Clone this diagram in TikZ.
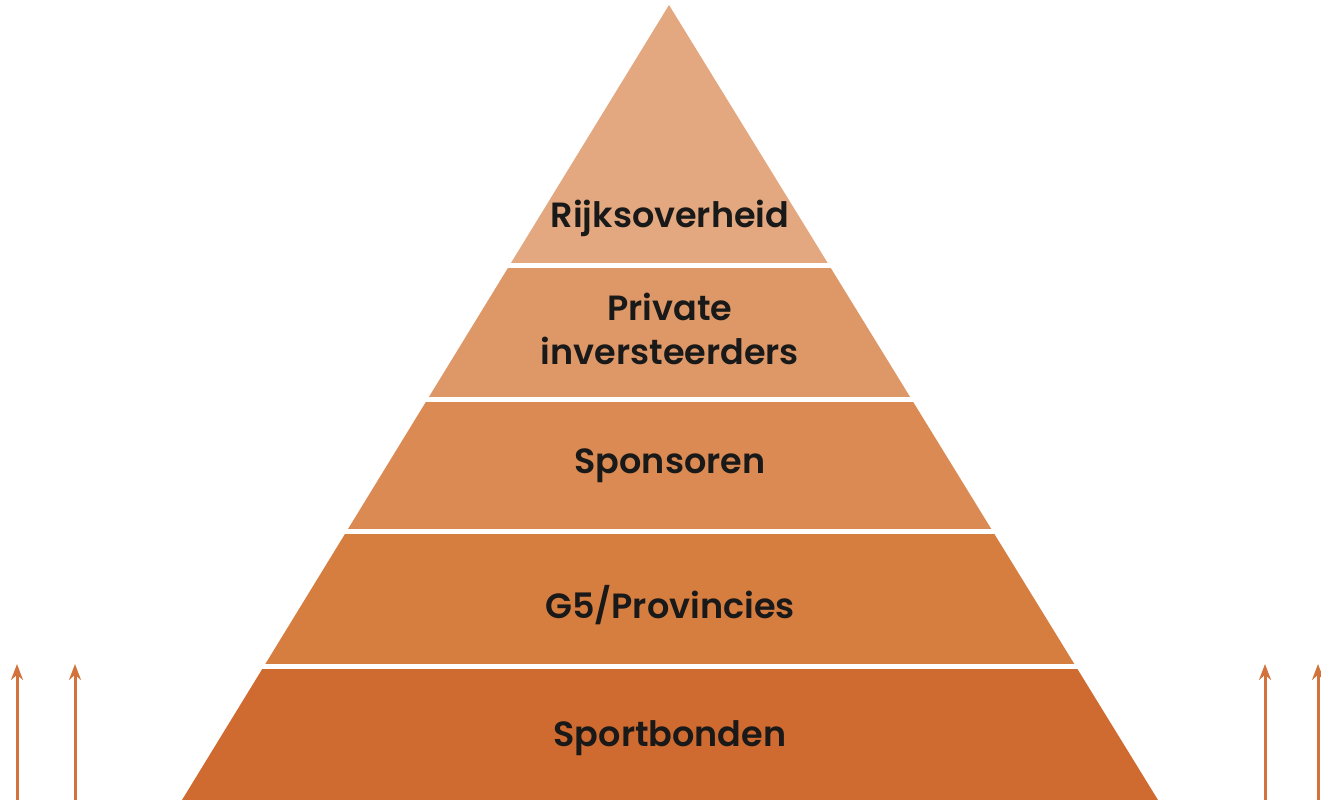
\documentclass[tikz,border=0pt]{standalone}
\usepackage{fontspec}
\setmainfont{Poppins}[UprightFont={* SemiBold}]
\usetikzlibrary{arrows.meta}
\definecolor{c1}{RGB}{227,168,128}
\definecolor{c2}{RGB}{222,152,104}
\definecolor{c3}{RGB}{218,138,82}
\definecolor{c4}{RGB}{214,125,64}
\definecolor{c5}{RGB}{207,106,48}
\definecolor{arr}{RGB}{210,115,60}
\tikzset{
  lbl/.style={font=\fontsize{35}{44}\selectfont, text=black!90, align=center, inner sep=0pt, anchor=base},
  uparrow/.style={draw=arr, line width=3pt, -{Stealth[length=16pt,width=12pt]}},
}
\begin{document}
\begin{tikzpicture}[x=1pt,y=-1pt]
\useasboundingbox (0,0) rectangle (1321,800);
\begin{scope}
\clip (669,5) -- (1158,800) -- (182,800) -- cycle;
\fill[c1] (0,0) rectangle (1321,263);
\fill[c2] (0,268) rectangle (1321,397);
\fill[c3] (0,402) rectangle (1321,529);
\fill[c4] (0,534) rectangle (1321,664);
\fill[c5] (0,669) rectangle (1321,800);
\end{scope}
\node[lbl] (rijk) at (670,227) {Rijksoverheid};
\node[lbl] (priv) at (670,364) {Private\\inversteerders};
\node[lbl] (spon) at (670,473) {Sponsoren};
\node[lbl] (g5) at (670,618) {G5/Provincies};
\node[lbl] (sport) at (670,746) {Sportbonden};
\coordinate (a1s) at (17,800); \coordinate (a1e) at (17,664);
\coordinate (a2s) at (75,800); \coordinate (a2e) at (75,664);
\coordinate (a3s) at (1265,800); \coordinate (a3e) at (1265,664);
\coordinate (a4s) at (1318,800); \coordinate (a4e) at (1318,664);
\draw[uparrow] (a1s) -- (a1e);
\draw[uparrow] (a2s) -- (a2e);
\draw[uparrow] (a3s) -- (a3e);
\draw[uparrow] (a4s) -- (a4e);
\end{tikzpicture}
\end{document}
